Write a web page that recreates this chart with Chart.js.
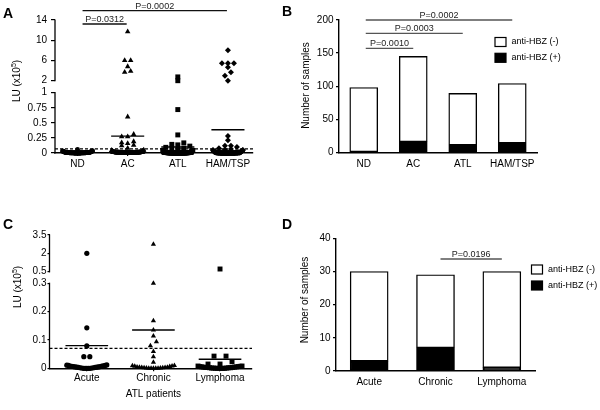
<!DOCTYPE html>
<html><head><meta charset="utf-8">
<script src="https://cdn.jsdelivr.net/npm/chart.js@4.4.1/dist/chart.umd.min.js"></script>
<style>
html,body{margin:0;padding:0;background:#fff;}
#wrap{position:relative;width:600px;height:410px;overflow:hidden;background:#fff;}
canvas{position:absolute;left:0;top:0;}
</style></head><body>
<div id="wrap">
<canvas id="cA" width="600" height="410"></canvas>
<canvas id="cB" width="600" height="410"></canvas>
<canvas id="cC" width="600" height="410"></canvas>
<canvas id="cD" width="600" height="410"></canvas>
</div>
<script>
// ---------------- DATA ----------------
const groups = ['ND', 'AC', 'ATL', 'HAM/TSP'];
const atlTypes = ['Acute', 'Chronic', 'Lymphoma'];

// LU (x10^5) per sample
const luND = [0.06,0.04,0.035,0.03,0.03,0.028,0.025,0.025,0.022,0.02,
  0.02,0.019,0.018,0.017,0.016,0.015,0.015,0.014,0.013,0.012,
  0.012,0.011,0.011,0.01,0.01,0.01,0.009,0.009,0.009,0.008,
  0.008,0.008,0.007,0.007,0.007,0.007,0.006,0.006,0.006,0.006,
  0.005,0.005,0.005,0.005,0.005,0.004,0.004,0.004,0.004,0.004,
  0.004,0.003,0.003,0.003,0.003,0.003,0.003,0.003,0.002,0.002,
  0.002,0.002,0.002,0.002,0.002,0.002,0.001,0.001,0.001,0.001,
  0.001,0.001,0.001,0.001,0.001,0.001,0,0,0,0,
  0,0,0,0,0,0,0,0,0,0,
  0,0,0,0,0,0,0,0];
const luAC = [11.7,6.0,6.0,4.8,3.9,3.7,0.60,0.31,0.27,0.27,0.19,0.17,0.16,0.13,0.12,0.08,
  0.05,0.045,0.04,0.035,0.03,0.03,0.028,0.025,0.024,0.022,
  0.02,0.02,0.019,0.018,0.017,0.016,0.015,0.015,0.014,0.013,
  0.013,0.012,0.012,0.011,0.011,0.01,0.01,0.01,0.01,0.009,
  0.009,0.009,0.008,0.008,0.008,0.008,0.007,0.007,0.007,0.007,
  0.006,0.006,0.006,0.006,0.006,0.005,0.005,0.005,0.005,0.005,
  0.005,0.004,0.004,0.004,0.004,0.004,0.004,0.003,0.003,0.003,
  0.003,0.003,0.003,0.003,0.002,0.002,0.002,0.002,0.002,0.002,
  0.002,0.002,0.001,0.001,0.001,0.001,0.001,0.001,0.001,0.001,
  0.001,0.001,0,0,0,0,0,0,0,0,
  0,0,0,0,0,0,0,0,0,0,
  0,0,0,0,0,0,0,0,0,0,
  0,0,0,0,0,0,0,0,0,0,
  0,0,0,0,0,0,0,0,0];
const luHAM = [8.0,5.45,5.45,5.45,4.65,3.65,3.0,2.0,0.28,0.21,0.12,0.12,0.10,0.08,
  0.065,0.06,0.05,0.05,0.045,0.04,0.035,0.03,0.03,0.025,
  0.025,0.02,0.02,0.018,0.016,0.015,0.014,0.013,0.012,0.011,
  0.01,0.01,0.01,0.009,0.009,0.008,0.008,0.008,0.007,0.007,
  0.007,0.006,0.006,0.006,0.005,0.005,0.005,0.005,0.004,0.004,
  0.004,0.004,0.003,0.003,0.003,0.003,0.003,0.002,0.002,0.002,
  0.002,0.002,0.002,0.001,0.001,0.001,0.001,0.001,0.001,0.001,
  0.001,0,0,0,0,0,0,0,0,0,
  0,0,0,0,0,0,0,0,0,0,
  0,0,0,0,0,0,0,0,0,0];
const luAcute = [2.0,0.143,0.079,0.041,0.041,
  0.012,0.011,0.01,0.01,0.009,0.008,0.008,0.007,0.006,0.006,
  0.005,0.005,0.004,0.004,0.003,0.003,0.002,0.002,0.001,0.001,
  0,0,0,0,0];
const luChronic = [2.75,0.30,0.168,0.135,0.114,0.094,0.08,0.059,0.041,0.021,
  0.01,0.009,0.008,0.007,0.006,0.005,0.004,0.004,0.003,0.003,
  0.002,0.002,0.001,0.001,0,0,0,0,0];
const luLymphoma = [0.72,0.043,0.043,0.023,0.015,0.015,
  0.008,0.008,0.007,0.006,0.006,0.005,0.005,0.004,0.004,0.003,
  0.003,0.003,0.002,0.002,0.002,0.001,0.001,0.001,0,0,
  0,0,0,0];
const luATL = [...luAcute, ...luChronic, ...luLymphoma];

const meanA = [0.01, 0.28, 0.10, 0.385];
const meanC = [0.08, 0.135, 0.032];
const cutoff = 0.07;

const yTicksA = [0, 0.25, 0.5, 0.75, 1, 2, 6, 10, 14];
const yTicksC = [0, 0.1, 0.2, 0.3, 0.5, 2, 3.5];

// anti-HBZ counts
const totalB = [98, 145, 89, 104];
const posB = [0, 16, 11, 14];
const totalD = [30, 29, 30];
const posD = [3, 7, 1];
const legendLabels = ['anti-HBZ (-)', 'anti-HBZ (+)'];

// significance annotations [from, to, text]
const pA = [[0, 1, 'P=0.0312'], [0, 3, 'P=0.0002']];
const pB = [[0, 1, 'P=0.0010'], [0, 2, 'P=0.0003'], [0, 3, 'P=0.0002']];
const pD = [[1, 2, 'P=0.0196']];

// ---------------- STYLE / LAYOUT ----------------
const FONT = '"Liberation Sans", Arial, Helvetica, sans-serif';
Chart.defaults.font.family = FONT;
Chart.defaults.font.size = 10;
Chart.defaults.color = '#000';
Chart.defaults.animation = false;

function registerBroken(id, segs) {
  const toFrac = v => {
    for (let i = 0; i < segs.length; i++) {
      const [v0, v1, f0, f1] = segs[i];
      if (v <= v1 || i === segs.length - 1) {
        if (v >= v0 || i === 0) return f0 + (v - v0) / (v1 - v0) * (f1 - f0);
        const p = segs[i - 1];
        return p[3] + (v - p[1]) / (v0 - p[1]) * (f0 - p[3]);
      }
    }
  };
  const fromFrac = f => {
    for (let i = 0; i < segs.length; i++) {
      const [v0, v1, f0, f1] = segs[i];
      if (f <= f1 || i === segs.length - 1) {
        if (f >= f0 || i === 0) return v0 + (f - f0) / (f1 - f0) * (v1 - v0);
        const p = segs[i - 1];
        return p[1] + (f - p[3]) / (f0 - p[3]) * (v0 - p[1]);
      }
    }
  };
  class S extends Chart.LinearScale {
    getPixelForValue(v) { return (v === null || v === undefined || isNaN(v)) ? NaN : this.getPixelForDecimal(toFrac(v)); }
    getValueForPixel(p) { return fromFrac(this.getDecimalForPixel(p)); }
  }
  S.id = id;
  S.defaults = Chart.LinearScale.defaults;
  Chart.register(S);
}
// axis segments [v0, v1, fraction0, fraction1]
const segA = [[0, 1, 0, 0.4534], [2, 14, 0.5436, 1]];
const segC = [[0, 0.3, 0, 0.6377], [0.5, 3.5, 0.7247, 1]];
registerBroken('brokenA', segA);
registerBroken('brokenC', segC);

function pad(box, wy, hx) {
  return { left: box.L - wy, right: 600 - box.R, top: box.T, bottom: 410 - box.B - hx };
}
const boxA = { L: 55, R: 253, T: 20, B: 153 };
const boxB = { L: 339, R: 537, T: 20, B: 152.3 };
const boxC = { L: 49.5, R: 252, T: 235, B: 368.3 };
const boxD = { L: 336, R: 535, T: 238.3, B: 371 };

function line(ctx, x0, y0, x1, y1, color, w) {
  ctx.save(); ctx.strokeStyle = color; ctx.lineWidth = w;
  ctx.beginPath(); ctx.moveTo(x0, y0); ctx.lineTo(x1, y1); ctx.stroke(); ctx.restore();
}
function text(ctx, s, x, y, o = {}) {
  ctx.save();
  ctx.font = (o.bold ? 'bold ' : '') + (o.size || 10) + 'px ' + FONT;
  ctx.fillStyle = o.color || '#000';
  ctx.textAlign = o.align || 'center';
  ctx.textBaseline = o.base || 'middle';
  if (o.rot) { ctx.translate(x, y); ctx.rotate(o.rot); ctx.fillText(s, 0, 0); }
  else ctx.fillText(s, x, y);
  ctx.restore();
}
function luTitle(ctx, cx, cy) {
  ctx.save(); ctx.translate(cx, cy); ctx.rotate(-Math.PI / 2);
  ctx.fillStyle = '#000'; ctx.textBaseline = 'middle'; ctx.textAlign = 'left';
  const f = '10px ' + FONT, fs = '7px ' + FONT, a = 'LU (x10', c = ')';
  ctx.font = f; const wa = ctx.measureText(a).width, wc = ctx.measureText(c).width;
  ctx.font = fs; const wb = ctx.measureText('5').width;
  const x0 = -(wa + wb + wc) / 2;
  ctx.font = f; ctx.fillText(a, x0, 0);
  ctx.font = fs; ctx.fillText('5', x0 + wa, -3.5);
  ctx.font = f; ctx.fillText(c, x0 + wa + wb, 0);
  ctx.restore();
}
function pBars(ctx, xs, list, levels, o) {
  list.forEach(([a, b, t], i) => {
    const x0 = xs.getPixelForValue(a) + o.dx0, x1 = xs.getPixelForValue(b) + o.dx1, y = levels[i];
    line(ctx, x0, y, x1, y, o.color, 1.3);
    text(ctx, t, (x0 + x1) / 2, y - 2.2, { size: 9, base: 'alphabetic', color: '#222' });
  });
}
function legend(ctx, x, y, gap) {
  [['#fff', legendLabels[0]], ['#000', legendLabels[1]]].forEach(([fill, lab], i) => {
    const yy = y + i * gap;
    ctx.save(); ctx.fillStyle = fill; ctx.strokeStyle = '#000'; ctx.lineWidth = 1.2;
    ctx.fillRect(x, yy, 11, 9); ctx.strokeRect(x, yy, 11, 9); ctx.restore();
    text(ctx, lab, x + 16.5, yy + 4.5, { size: 9, align: 'left' });
  });
}
function brokenAxis(ctx, chart, segs) {
  const y = chart.scales.y, x = chart.chartArea.left;
  segs.forEach(([v0, v1]) => line(ctx, x, y.getPixelForValue(v0) + 0.6, x, y.getPixelForValue(v1) - 0.6, '#000', 1.3));
}

function swarm(chart, cat, values, o) {
  const xs = chart.scales.x, ys = chart.scales.y;
  const ppu = xs.getPixelForValue(1) - xs.getPixelForValue(0);
  const items = values.map(v => ({ v, py: ys.getPixelForValue(v) })).sort((a, b) => a.v - b.v);
  const rows = [];
  items.forEach(it => {
    const r = rows[rows.length - 1];
    if (r && Math.abs(r[0].py - it.py) <= o.row) r.push(it); else rows.push([it]);
  });
  const pts = [];
  rows.forEach(r => {
    const n = r.length;
    const gap = n > 1 ? Math.min(o.step, 2 * o.half / (n - 1)) : 0;
    const slots = r.map((_, j) => (j - (n - 1) / 2) * gap).sort((a, b) => Math.abs(a) - Math.abs(b) || a - b);
    r.forEach((it, k) => pts.push({ x: cat + slots[k] / ppu, y: it.v }));
  });
  return pts;
}

function scatterConfig(cats, series, means, styles, yType, yTicks, box, xr, meanHalf, xTick, yTick, drawExtra) {
  const ds = series.map((vals, i) => ({
    data: vals.map(v => ({ x: i, y: v })),
    pointStyle: styles[i].style, pointRadius: styles[i].r,
    backgroundColor: '#000', borderWidth: 0, clip: false
  }));
  means.forEach((m, i) => ds.push({
    data: [{ x: i - meanHalf, y: m }, { x: i + meanHalf, y: m }],
    showLine: true, pointRadius: 0, borderColor: '#000', borderWidth: 1.4, clip: false
  }));
  ds.push({
    data: [{ x: xr[0], y: cutoff }, { x: xr[1], y: cutoff }],
    showLine: true, pointRadius: 0, borderColor: '#000', borderWidth: 1.2, borderDash: [3, 2], clip: false
  });
  return {
    type: 'scatter',
    data: { datasets: ds },
    options: {
      responsive: false, devicePixelRatio: 1, events: [],
      layout: { padding: pad(box, 30, 20), autoPadding: false },
      plugins: { legend: { display: false }, tooltip: { enabled: false } },
      scales: {
        x: {
          type: 'linear', min: xr[0], max: xr[1], bounds: 'data',
          afterBuildTicks: s => { s.ticks = cats.map((c, i) => ({ value: i })); },
          ticks: { callback: v => cats[Math.round(v)], autoSkip: false, maxRotation: 0, padding: xTick.pad },
          grid: { display: true, drawOnChartArea: false, drawTicks: true, tickLength: xTick.tl, color: '#000', lineWidth: 1.2 },
          border: { display: true, color: '#000', width: 1.4 },
          afterFit: s => { s.height = 20; }
        },
        y: {
          type: yType, min: yTicks[0], max: yTicks[yTicks.length - 1], bounds: 'data',
          afterBuildTicks: s => { s.ticks = yTicks.map(v => ({ value: v })); },
          ticks: { callback: v => String(v), autoSkip: false, padding: yTick.pad },
          grid: { display: true, drawOnChartArea: false, drawTicks: true, tickLength: yTick.tl, color: '#000', lineWidth: 1.2 },
          border: { display: false },
          afterFit: s => { s.width = 30; }
        }
      }
    },
    plugins: [{ id: 'extra', afterDraw: drawExtra }]
  };
}

function barConfig(cats, totals, pos, box, thick, yMax, step, labPad, drawExtra) {
  const neg = totals.map((t, i) => t - pos[i]);
  return {
    type: 'bar',
    data: {
      labels: cats,
      datasets: [
        { label: legendLabels[1], data: pos, backgroundColor: '#000', borderColor: '#000', borderWidth: 1.4, borderSkipped: false, barThickness: thick },
        { label: legendLabels[0], data: neg, backgroundColor: '#fff', borderColor: '#000', borderWidth: 1.4, borderSkipped: false, barThickness: thick }
      ]
    },
    options: {
      responsive: false, devicePixelRatio: 1, events: [],
      layout: { padding: pad(box, 30, 20), autoPadding: false },
      plugins: { legend: { display: false }, tooltip: { enabled: false } },
      scales: {
        x: {
          stacked: true,
          ticks: { autoSkip: false, maxRotation: 0, padding: labPad },
          grid: { display: false, drawTicks: false },
          border: { display: true, color: '#000', width: 1.4 },
          afterFit: s => { s.height = 20; }
        },
        y: {
          stacked: true, min: 0, max: yMax,
          ticks: { stepSize: step, padding: 2.5 },
          grid: { display: true, drawOnChartArea: false, drawTicks: true, tickLength: 3, color: '#000', lineWidth: 1.2 },
          border: { display: true, color: '#000', width: 1.4 },
          afterFit: s => { s.width = 30; }
        }
      }
    },
    plugins: [{ id: 'extra', afterDraw: drawExtra }]
  };
}

// ---------------- PANEL A ----------------
const stylesA = [{ style: 'circle', r: 2.4 }, { style: 'triangle', r: 3.2 }, { style: 'rect', r: 3.5 }, { style: 'rectRot', r: 3 }];
const chartA = new Chart(document.getElementById('cA'), scatterConfig(
  groups, [luND, luAC, luATL, luHAM], meanA, stylesA, 'brokenA', yTicksA, boxA, [-0.45, 3.5], 0.33,
  { tl: 3, pad: 2.4 }, { tl: 4, pad: 4 },
  chart => {
    const ctx = chart.ctx;
    brokenAxis(ctx, chart, segA);
    text(ctx, 'A', 3, 18, { bold: true, size: 14, align: 'left', base: 'alphabetic' });
    luTitle(ctx, 17.5, 81);
    pBars(ctx, chart.scales.x, pA, [24, 10.7], { dx0: 5, dx1: -1, color: '#111' });
  }));

// ---------------- PANEL B ----------------
const chartB = new Chart(document.getElementById('cB'), barConfig(
  groups, totalB, posB, boxB, 28, 200, 50, 6,
  chart => {
    const ctx = chart.ctx;
    text(ctx, 'B', 282, 15.5, { bold: true, size: 14, align: 'left', base: 'alphabetic' });
    text(ctx, 'Number of samples', 306, 85.5, { rot: -Math.PI / 2 });
    pBars(ctx, chart.scales.x, pB, [48.3, 33.3, 20], { dx0: 2, dx1: 0, color: '#555' });
    legend(ctx, 495, 37.5, 15.8);
  }));

// ---------------- PANEL C ----------------
const stylesC = [{ style: 'circle', r: 2.6 }, { style: 'triangle', r: 3 }, { style: 'rect', r: 3.5 }];
const chartC = new Chart(document.getElementById('cC'), scatterConfig(
  atlTypes, [luAcute, luChronic, luLymphoma], meanC, stylesC, 'brokenC', yTicksC, boxC, [-0.56, 2.48], 0.32,
  { tl: 3, pad: 0.5 }, { tl: 2, pad: 1 },
  chart => {
    const ctx = chart.ctx;
    brokenAxis(ctx, chart, segC);
    text(ctx, 'C', 3, 228.5, { bold: true, size: 14, align: 'left', base: 'alphabetic' });
    luTitle(ctx, 18.5, 287);
    text(ctx, 'ATL patients', chart.scales.x.getPixelForValue(1), 394.5);
  }));

// ---------------- PANEL D ----------------
const chartD = new Chart(document.getElementById('cD'), barConfig(
  atlTypes, totalD, posD, boxD, 38, 40, 10, 5,
  chart => {
    const ctx = chart.ctx;
    text(ctx, 'D', 282, 228.5, { bold: true, size: 14, align: 'left', base: 'alphabetic' });
    text(ctx, 'Number of samples', 305, 300, { rot: -Math.PI / 2 });
    pBars(ctx, chart.scales.x, pD, [259], { dx0: 5, dx1: 0, color: '#555' });
    legend(ctx, 531.5, 265, 16);
  }));

// swarm layout of the scatter points (computed from the library scales)
const swA = [{ half: 15, step: 6 }, { half: 16, step: 6 }, { half: 15, step: 6 }, { half: 15, step: 6 }];
[luND, luAC, luATL, luHAM].forEach((vals, i) => {
  chartA.data.datasets[i].data = swarm(chartA, i, vals, { row: 3.5, half: swA[i].half, step: swA[i].step });
});
chartA.update('none');
const swC = [{ half: 20, step: 6 }, { half: 21, step: 6 }, { half: 22, step: 12 }];
[luAcute, luChronic, luLymphoma].forEach((vals, i) => {
  chartC.data.datasets[i].data = swarm(chartC, i, vals, { row: 4, half: swC[i].half, step: swC[i].step });
});
chartC.update('none');
</script>
</body></html>
